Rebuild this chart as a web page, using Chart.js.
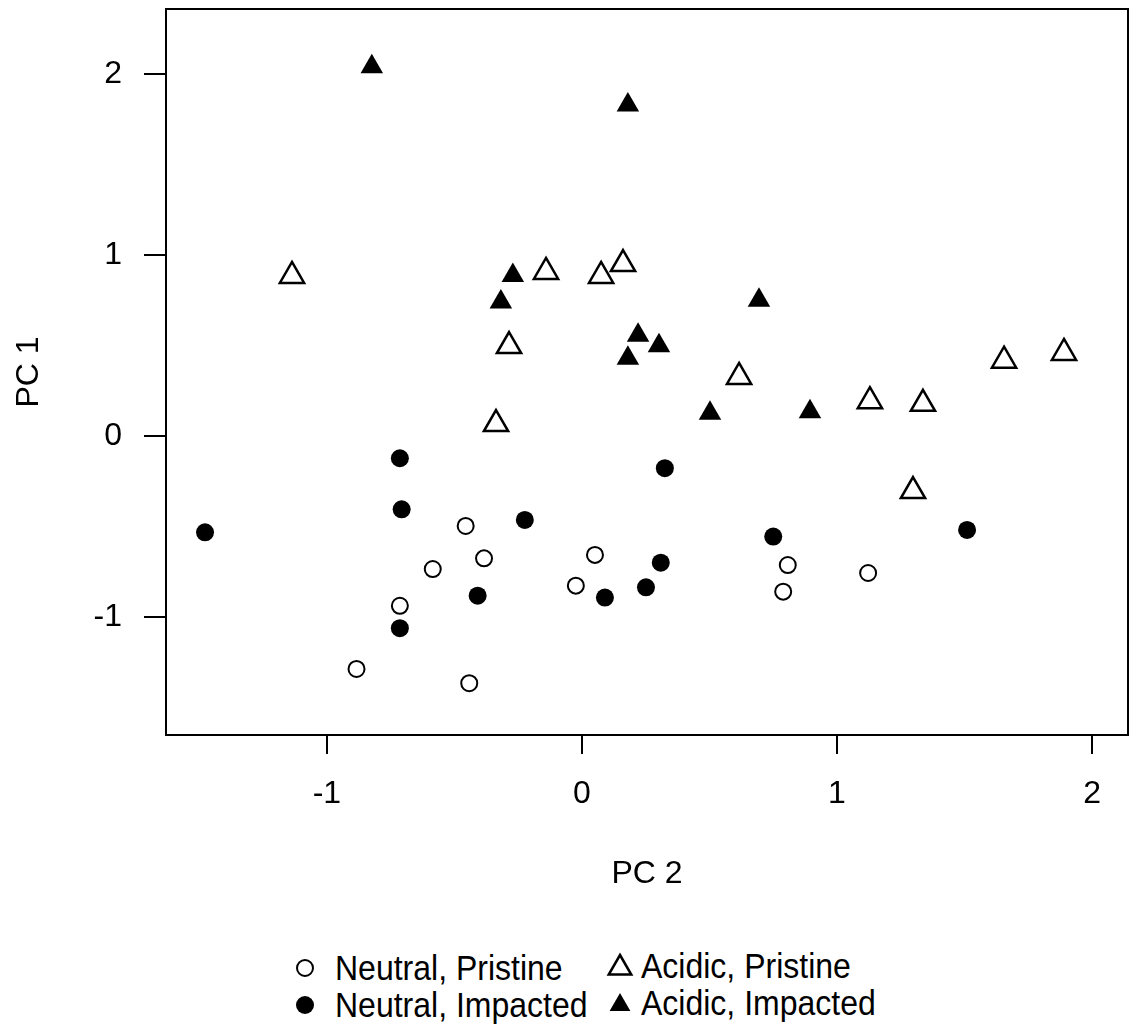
<!DOCTYPE html>
<html>
<head>
<meta charset="utf-8">
<title>PCA scores</title>
<script src="https://cdn.jsdelivr.net/npm/chart.js@4"></script>
<style>
  body { margin: 0; background: #fff; font-family: "Liberation Sans", Arial, sans-serif; }
  #wrap { position: relative; width: 1135px; height: 1025px; overflow: hidden; }
  .leg { position: absolute; font-size: 32px; line-height: 32px; color: #000; white-space: nowrap;
         transform: scaleY(1.1); transform-origin: 0 50%; }
  .sym { position: absolute; }
</style>
</head>
<body>
<div id="wrap">
  <canvas id="pca" width="1135" height="930"></canvas>
  <div id="legend"></div>
</div>
<script>
// axis ticks
const xTicks = [-1, 0, 1, 2];
const yTicks = [-1, 0, 1, 2];

const seriesNames = ['Neutral, Pristine', 'Neutral, Impacted', 'Acidic, Pristine', 'Acidic, Impacted'];

// PC 2 (x) / PC 1 (y) scores
const neutralPristineX = [-0.456, -0.384, -0.585, -0.714, -0.884, -0.442, -0.024, 0.051, 0.807, 0.789, 1.122];
const neutralPristineY = [-0.497, -0.676, -0.735, -0.938, -1.287, -1.366, -0.827, -0.657, -0.713, -0.860, -0.757];

const neutralImpactedX = [-1.478, -0.714, -0.707, -0.714, -0.409, -0.224, 0.090, 0.251, 0.309, 0.325, 0.750, 1.510];
const neutralImpactedY = [-0.532, -0.123, -0.405, -1.062, -0.882, -0.464, -0.893, -0.836, -0.700, -0.178, -0.556, -0.519];

const acidicPristineX = [-1.137, -0.337, -0.286, -0.141, 0.075, 0.161, 0.616, 1.129, 1.337, 1.298, 1.655, 1.890];
const acidicPristineY = [0.884, 0.066, 0.497, 0.906, 0.884, 0.950, 0.326, 0.192, 0.178, -0.304, 0.416, 0.459];

const acidicImpactedX = [-0.824, 0.180, -0.271, -0.318, 0.220, 0.302, 0.180, 0.694, 0.502, 0.894];
const acidicImpactedY = [2.040, 1.829, 0.886, 0.740, 0.556, 0.499, 0.429, 0.750, 0.125, 0.134];

function toPoints(xs, ys) {
  return xs.map((x, i) => ({ x: x, y: ys[i] }));
}

const axisFont = { family: '"Liberation Sans", Arial, sans-serif', size: 32 };

// box round the plot area, like base R graphics
const boxPlugin = {
  id: 'box',
  beforeDatasetsDraw(chart) {
    const a = chart.chartArea;
    const ctx = chart.ctx;
    ctx.save();
    ctx.strokeStyle = '#000';
    ctx.lineWidth = 2;
    ctx.strokeRect(a.left, a.top, a.right - a.left, a.bottom - a.top);
    ctx.restore();
  }
};

const styles = [
  { pointStyle: 'circle', pointRadius: 8, backgroundColor: '#fff', borderColor: '#000', borderWidth: 2 },
  { pointStyle: 'circle', pointRadius: 9, backgroundColor: '#000', borderColor: '#000', borderWidth: 0 },
  { pointStyle: 'triangle', pointRadius: 14, backgroundColor: '#fff', borderColor: '#000', borderWidth: 2.5 },
  { pointStyle: 'triangle', pointRadius: 13, backgroundColor: '#000', borderColor: '#000', borderWidth: 0 }
];

const seriesData = [
  toPoints(neutralPristineX, neutralPristineY),
  toPoints(neutralImpactedX, neutralImpactedY),
  toPoints(acidicPristineX, acidicPristineY),
  toPoints(acidicImpactedX, acidicImpactedY)
];

new Chart(document.getElementById('pca'), {
  type: 'scatter',
  data: {
    datasets: seriesNames.map((name, i) => Object.assign({ label: name, data: seriesData[i] }, styles[i]))
  },
  options: {
    responsive: false,
    animation: false,
    devicePixelRatio: 1,
    layout: { autoPadding: false, padding: { left: 0, top: 9, right: 7, bottom: 0 } },
    plugins: { legend: { display: false }, tooltip: { enabled: false } },
    scales: {
      x: {
        type: 'linear',
        position: 'bottom',
        min: -1.631,
        max: 2.141,
        afterBuildTicks: axis => { axis.ticks = xTicks.map(v => ({ value: v })); },
        afterFit: axis => { axis.height = 195; axis.paddingLeft = 0; axis.paddingRight = 0; },
        grid: { drawOnChartArea: false, drawTicks: true, tickLength: 19, color: '#000', lineWidth: 2 },
        border: { display: false },
        ticks: { color: '#000', font: axisFont, padding: 21, maxRotation: 0, callback: v => String(v) },
        title: { display: true, text: 'PC 2', color: '#000', font: axisFont, padding: { top: 0, bottom: 37 } }
      },
      y: {
        type: 'linear',
        position: 'left',
        min: -1.652,
        max: 2.359,
        afterBuildTicks: axis => { axis.ticks = yTicks.map(v => ({ value: v })); },
        afterFit: axis => { axis.width = 166; axis.paddingTop = 0; axis.paddingBottom = 0; },
        grid: { drawOnChartArea: false, drawTicks: true, tickLength: 22, color: '#000', lineWidth: 2 },
        border: { display: false },
        ticks: { color: '#000', font: axisFont, padding: 22, callback: v => String(v) },
        title: { display: true, text: 'PC 1', color: '#000', font: axisFont, padding: { top: 10, bottom: 0 } }
      }
    }
  },
  plugins: [boxPlugin]
});

// legend below the plot, two columns by two rows
const legendPos = [
  { sx: 305, tx: 335, cy: 968 },
  { sx: 305, tx: 335, cy: 1005 },
  { sx: 620, tx: 641, cy: 966 },
  { sx: 620, tx: 641, cy: 1003 }
];

function symbolSvg(i) {
  const s = styles[i];
  let shape;
  if (s.pointStyle === 'circle') {
    shape = '<circle cx="15" cy="15" r="' + s.pointRadius + '" fill="' + s.backgroundColor +
      '" stroke="#000" stroke-width="' + s.borderWidth + '"/>';
  } else {
    const r = s.pointRadius - 1;
    const pts = [0, 1, 2].map(k => {
      const a = k * 2 * Math.PI / 3;
      return (15 + Math.sin(a) * r).toFixed(2) + ',' + (17 - Math.cos(a) * r).toFixed(2);
    }).join(' ');
    shape = '<polygon points="' + pts + '" fill="' + s.backgroundColor +
      '" stroke="#000" stroke-width="' + s.borderWidth + '"/>';
  }
  return '<svg width="30" height="30" viewBox="0 0 30 30">' + shape + '</svg>';
}

const legendEl = document.getElementById('legend');
seriesNames.forEach((name, i) => {
  const p = legendPos[i];
  const sym = document.createElement('div');
  sym.className = 'sym';
  sym.style.left = (p.sx - 15) + 'px';
  sym.style.top = (p.cy - 15) + 'px';
  sym.innerHTML = symbolSvg(i);
  legendEl.appendChild(sym);

  const txt = document.createElement('div');
  txt.className = 'leg';
  txt.style.left = p.tx + 'px';
  txt.style.top = (p.cy - 16) + 'px';
  txt.textContent = name;
  legendEl.appendChild(txt);
});
</script>
</body>
</html>
